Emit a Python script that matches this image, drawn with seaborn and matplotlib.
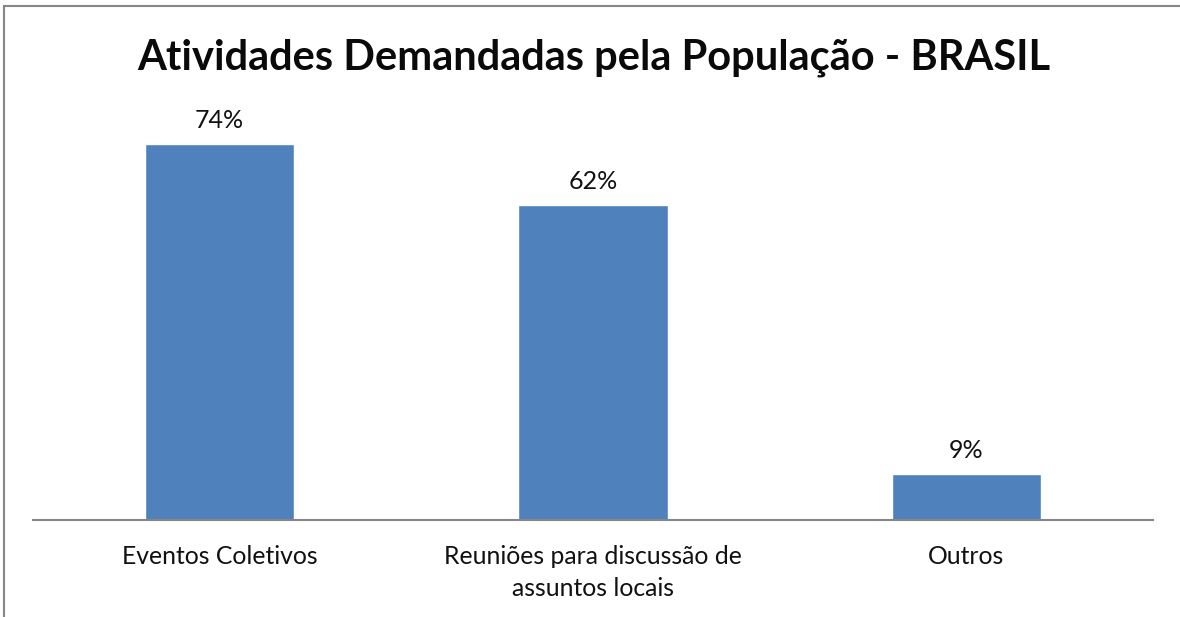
import matplotlib
matplotlib.use("Agg")
import matplotlib.pyplot as plt
import seaborn as sns
import pandas as pd
from matplotlib.patches import Rectangle

categories = ["Eventos Coletivos", "Reuniões para discussão de\nassuntos locais", "Outros"]
values = [0.74, 0.62, 0.09]
value_labels = ["74%", "62%", "9%"]

sns.set_style("white")
plt.rcParams['font.family'] = ['Lato', 'DejaVu Sans']

df = pd.DataFrame({"atividade": categories, "pct": values})

fig = plt.figure(figsize=(11.8, 6.17), dpi=100)
ax = fig.add_axes([33 / 1180, 97 / 617, 1120 / 1180, 406 / 617])

sns.barplot(data=df, x="atividade", y="pct", color="#4F81BD", saturation=1,
            width=0.4, ax=ax)

ax.set_ylim(0, 0.8)
ax.set_xlim(-0.5, 2.5)
ax.set_yticks([])
ax.set_xlabel("")
ax.set_ylabel("")
for side in ["top", "right", "left"]:
    ax.spines[side].set_visible(False)
ax.spines["bottom"].set_color("#868686")
ax.spines["bottom"].set_linewidth(1.5)
ax.tick_params(axis="x", length=0, pad=18, labelsize=17.8, labelcolor="#111111")
for t in ax.get_xticklabels():
    t.set_linespacing(1.45)

# data labels above bars
for i, (v, lab) in enumerate(zip(values, value_labels)):
    ax.annotate(lab, (i, v), xytext=(0, 9), textcoords="offset points",
                ha="center", va="bottom", fontsize=18, color="#111111")

fig.text(594 / 1180, 1 - 58 / 617, "Atividades Demandadas pela População - BRASIL",
         ha="center", va="center", fontsize=30, fontweight="bold", color="#0a0a0a")

# chart border (only left and top visible in the crop)
fig.patches.append(Rectangle((4 / 1180, -0.1), 1.2, 1 - 6 / 617 + 0.1,
                             transform=fig.transFigure, fill=False,
                             edgecolor="#868686", linewidth=1.5))

fig.savefig("out.png", dpi=100)
